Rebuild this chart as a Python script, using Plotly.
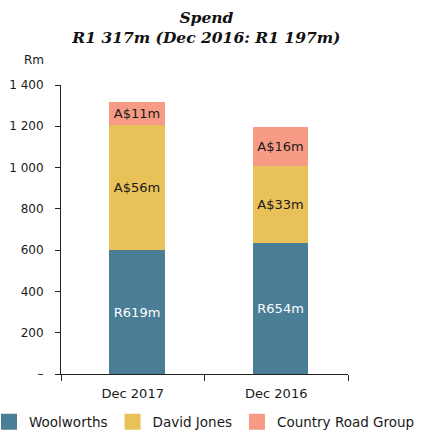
import plotly.graph_objects as go

categories = ["Dec 2017", "Dec 2016"]
woolworths = [600, 635]
david_jones = [605, 373]
country_road = [112, 189]
woolworths_labels = ["R619m", "R654m"]
david_jones_labels = ["A$56m", "A$33m"]
country_road_labels = ["A$11m", "A$16m"]
tick_vals = [0, 200, 400, 600, 800, 1000, 1200, 1400]
tick_text = ["–", "200", "400", "600", "800", "1 000", "1 200", "1 400"]

colors = {"Woolworths": "#497e96", "David Jones": "#e8c158", "Country Road Group": "#f79a86"}
FONT = "DejaVu Sans"

W, H = 430, 434
L, R, T, B = 61, 0, 85, 60
PW = W - L - R          # paper width in px
PH = H - T - B          # paper height in px
AXIS_W = 287            # x-axis length in px
BAR_W = 0.385

fig = go.Figure()
series = [
    ("Woolworths", woolworths, woolworths_labels, "white"),
    ("David Jones", david_jones, david_jones_labels, "#1a1a1a"),
    ("Country Road Group", country_road, country_road_labels, "#1a1a1a"),
]
for name, vals, labels, tc in series:
    fig.add_trace(go.Bar(
        x=categories, y=vals, name=name, text=labels,
        textposition="inside", insidetextanchor="middle", textangle=0,
        textfont=dict(color=tc, size=13, family=FONT),
        marker=dict(color=colors[name], line=dict(width=0)),
        showlegend=False, width=BAR_W, offset=-BAR_W / 2 + 0.03,
    ))
    fig.add_trace(go.Scatter(
        x=[None], y=[None], mode="markers", name=name,
        marker=dict(symbol="square", size=16, color=colors[name]),
        showlegend=True,
    ))

fig.update_layout(
    barmode="stack",
    width=W, height=H,
    margin=dict(l=L, r=R, t=T, b=B, autoexpand=False),
    plot_bgcolor="white", paper_bgcolor="white",
    font=dict(family=FONT, size=12, color="#1a1a1a"),
    title=dict(
        text="<b><i>Spend<br>R1 317m (Dec 2016: R1 197m)</i></b>",
        font=dict(family="DejaVu Serif", size=15.5, color="#111"),
        x=0.48, xanchor="center", y=0.947, yanchor="top",
    ),
    xaxis=dict(
        domain=[0, AXIS_W / PW],
        showline=True, linecolor="#222", linewidth=1,
        ticks="outside", tickson="boundaries", ticklen=6, tickcolor="#222",
        ticklabelstandoff=7,
        tickfont=dict(size=13, family=FONT, color="#1a1a1a"),
    ),
    yaxis=dict(
        range=[0, 1400], tickvals=tick_vals, ticktext=tick_text,
        showline=True, linecolor="#222", linewidth=1,
        ticks="outside", ticklen=5, tickcolor="#222",
        ticklabelstandoff=9,
        showgrid=False, zeroline=False,
        tickfont=dict(size=12, family=FONT, color="#1a1a1a"),
    ),
    legend=dict(
        orientation="h", x=-72 / PW, xanchor="left", y=-48 / PH, yanchor="middle",
        font=dict(size=13.5, family=FONT, color="#1a1a1a"),
        itemsizing="trace", traceorder="normal", tracegroupgap=0,
    ),
    annotations=[dict(
        text="Rm", xref="paper", yref="paper", x=-27 / PW, y=(314) / PH,
        showarrow=False, font=dict(size=12, family=FONT, color="#1a1a1a"),
        xanchor="center", yanchor="middle",
    )],
)

fig.write_html("out.html", config={"displayModeBar": False},
               post_script="document.body.style.margin='0';")
